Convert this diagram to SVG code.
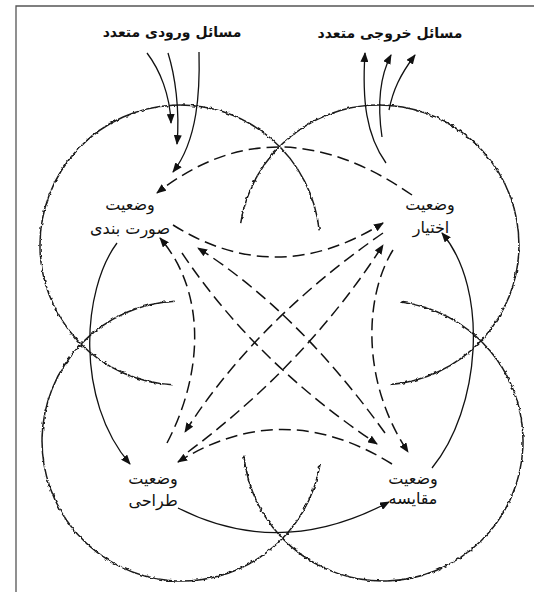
<svg xmlns="http://www.w3.org/2000/svg" width="534" height="592" viewBox="0 0 534 592">
<defs>
<style>
.lbl{font-family:'DejaVu Sans',sans-serif;font-size:16px;fill:#111;text-anchor:middle}
.title{font-family:'DejaVu Sans',sans-serif;font-size:14px;font-weight:bold;fill:#111;text-anchor:middle}
.ring{fill:none;stroke:#1a1a1a;stroke-width:1.5;filter:url(#wavy)}
.solid{fill:none;stroke:#111;stroke-width:1.3;marker-end:url(#ah)}
.dash{fill:none;stroke:#111;stroke-width:1.5;stroke-dasharray:12 6;marker-end:url(#ah)}
.frame{fill:none;stroke:#555;stroke-width:1.3}
</style>
<marker id="ah" viewBox="0 0 10 8" refX="9" refY="4" markerWidth="10" markerHeight="8" markerUnits="userSpaceOnUse" orient="auto"><path d="M0,0 L10,4 L0,8 z" fill="#111"/></marker>
<filter id="wavy" x="-5%" y="-5%" width="110%" height="110%">
<feTurbulence type="fractalNoise" baseFrequency="0.3" numOctaves="1" seed="4" result="n"/>
<feDisplacementMap in="SourceGraphic" in2="n" scale="3.5" xChannelSelector="R" yChannelSelector="G"/>
</filter>
</defs>
<rect width="534" height="592" fill="#fff"/>
<path class="frame" d="M16,592 V6 H534"/>
<g id="circles">
<path class="ring" d="M172.7,384.8 A140,140 0 1 1 319.2,230.4"/>
<path class="ring" d="M240.7,223.1 A140,140 0 1 1 390,384.6"/>
<path class="ring" d="M174.7,301.2 A140,140 0 1 0 320.1,464.1"/>
<path class="ring" d="M400.1,302 A140,140 0 1 1 243.8,455.6"/>
</g>
<g id="connectors">
<path class="solid" d="M147,53 C160,70 170,95 171,123"/>
<path class="solid" d="M168,53 C175,75 180,110 177,144"/>
<path class="solid" d="M199,52 C200,90 198,140 173,172"/>
<path class="solid" d="M386,163 C366,135 362,100 365,53"/>
<path class="solid" d="M382,137 C378,110 378,80 391,55"/>
<path class="solid" d="M389,110 C393,90 400,75 415,55"/>
<path class="solid" d="M117,243 C82,290 75,400 130,464"/>
<path class="solid" d="M178,508 Q280,560 389,502"/>
<path class="solid" d="M432,468 C480,410 490,290 442,233"/>
<path class="dash" d="M412,195 Q275,100 157,193"/>
<path class="dash" d="M173,225 Q277,290 383,223"/>
<path class="dash" d="M167,443 C205,370 205,290 160,238"/>
<path class="dash" d="M393,250 C365,295 360,380 408,452"/>
<path class="dash" d="M392,464 Q283,396 178,462"/>
<path class="dash" d="M182,253 Q255,362 377,444"/>
<path class="dash" d="M385,433 Q298,312 198,248"/>
<path class="dash" d="M383,233 Q255,322 185,432"/>
<path class="dash" d="M188,452 Q307,363 383,245"/>
</g>
<g id="input-label"><text class="title" x="172" y="37">مسائل ورودی متعدد</text></g>
<g id="output-label"><text class="title" x="390" y="38">مسائل خروجی متعدد</text></g>
<g id="node-framing"><text class="lbl" x="130" y="210">وضعیت</text><text class="lbl" x="130" y="234">صورت بندی</text></g>
<g id="node-choice"><text class="lbl" x="430" y="210">وضعیت</text><text class="lbl" x="431" y="233">اختیار</text></g>
<g id="node-design"><text class="lbl" x="153" y="484">وضعیت</text><text class="lbl" x="153" y="506">طراحی</text></g>
<g id="node-compare"><text class="lbl" x="413" y="484">وضعیت</text><text class="lbl" x="413" y="504">مقایسه</text></g>
</svg>
